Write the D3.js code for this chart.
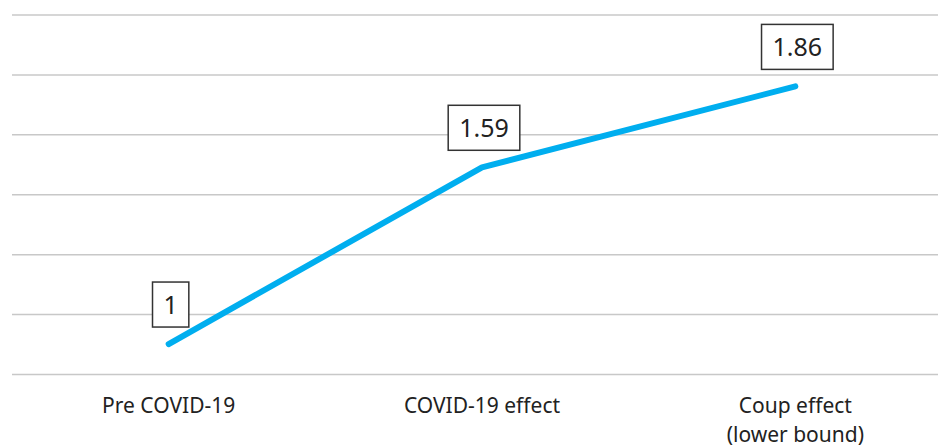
<!DOCTYPE html>
<html><head><meta charset="utf-8">
<script src="https://cdn.jsdelivr.net/npm/d3@7"></script>
<style>
html,body{margin:0;padding:0;background:#fff;}
svg text{font-family:"Noto Sans",sans-serif;fill:#222;}
</style></head>
<body>
<svg id="chart" width="938" height="448"></svg>
<script>
const categories = ["Pre COVID-19", "COVID-19 effect", "Coup effect\n(lower bound)"];
const values = [1, 1.59, 1.86];
const labels = ["1", "1.59", "1.86"];
const gridTicks = [0.9, 1.1, 1.3, 1.5, 1.7, 1.9, 2.1];

const W = 938, H = 448;
const svg = d3.select("#chart");
const x = d3.scaleBand().domain(categories).range([12, 952]);
const y = d3.scaleLinear().domain([0.9, 2.1]).range([374, 14.5]);

// gridlines via axis
const gAxis = svg.append("g").attr("transform", "translate(12,0)")
  .call(d3.axisRight(y).tickValues(gridTicks).tickSize(W - 12).tickFormat(""));
gAxis.select(".domain").remove();
gAxis.selectAll(".tick line").attr("stroke", "#c8c8c8").attr("stroke-width", 1.5);

// x axis labels
const gx = svg.append("g").attr("transform", "translate(0,374)")
  .call(d3.axisBottom(x).tickSize(0).tickFormat(""));
gx.select(".domain").remove();
gx.selectAll(".tick").each(function(d) {
  const t = d3.select(this).append("text")
    .attr("text-anchor", "middle").attr("font-size", 21).attr("fill", "#222");
  d.split("\n").forEach((s, i) => {
    t.append("tspan").attr("x", 0).attr("y", 39 + i * 29).text(s);
  });
});

const cx = d => x(d) + x.bandwidth() / 2;
const pts = categories.map((c, i) => [cx(c), y(values[i])]);

svg.append("path")
  .attr("d", d3.line()(pts))
  .attr("fill", "none").attr("stroke", "#00aeef").attr("stroke-width", 6)
  .attr("stroke-linecap", "round").attr("stroke-linejoin", "round");

// value labels in boxes
categories.forEach((c, i) => {
  const g = svg.append("g").attr("transform", `translate(${cx(c) + 2},${y(values[i]) - 17})`);
  const t = g.append("text").attr("text-anchor", "middle").attr("font-size", 25)
    .attr("y", -13).text(labels[i]);
  const bb = t.node().getBBox();
  g.insert("rect", "text")
    .attr("x", bb.x - 11).attr("y", -45).attr("width", bb.width + 22).attr("height", 45)
    .attr("fill", "#fff").attr("stroke", "#333").attr("stroke-width", 1.5);
});
</script>
</body></html>
